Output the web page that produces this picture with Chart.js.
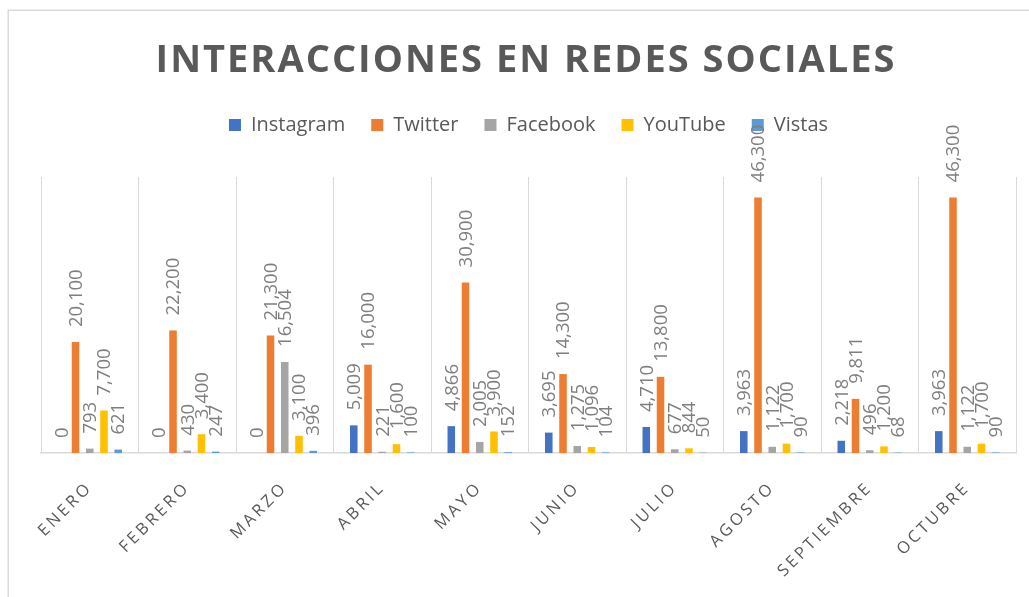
<!DOCTYPE html>
<html>
<head>
<meta charset="utf-8">
<script src="https://cdn.jsdelivr.net/npm/chart.js@4/dist/chart.umd.min.js"></script>
<style>
  html, body { margin: 0; padding: 0; background: #ffffff; }
  #wrap { width: 1029px; height: 597px; position: relative; }
</style>
</head>
<body>
<div id="wrap"><canvas id="c" width="1029" height="597"></canvas></div>
<script>
const chartTitle = 'INTERACCIONES EN REDES SOCIALES';
const months = ['ENERO', 'FEBRERO', 'MARZO', 'ABRIL', 'MAYO', 'JUNIO', 'JULIO', 'AGOSTO', 'SEPTIEMBRE', 'OCTUBRE'];
const instagram = [0, 0, 0, 5009, 4866, 3695, 4710, 3963, 2218, 3963];
const twitter   = [20100, 22200, 21300, 16000, 30900, 14300, 13800, 46300, 9811, 46300];
const facebook  = [793, 430, 16504, 221, 2005, 1275, 677, 1122, 496, 1122];
const youtube   = [7700, 3400, 3100, 1600, 3900, 1096, 844, 1700, 1200, 1700];
const vistas    = [621, 247, 396, 100, 152, 104, 50, 90, 68, 90];
const seriesNames = ['Instagram', 'Twitter', 'Facebook', 'YouTube', 'Vistas'];
const seriesColors = ['#4472C4', '#ED7D31', '#A5A5A5', '#FFC000', '#5B9BD5'];
const yMax = 50000;

const seriesData = [instagram, twitter, facebook, youtube, vistas];
const datasets = seriesNames.map((name, i) => ({
  label: name,
  data: seriesData[i],
  backgroundColor: seriesColors[i],
  borderWidth: 0,
  categoryPercentage: 0.73,
  barPercentage: 0.53
}));

const LEGEND_EXTRA = 32;

const decorPlugin = {
  id: 'decor',
  beforeLayout(chart) {
    const lg = chart.legend;
    if (lg && !lg._wrappedFit) {
      const f = lg.fit;
      lg.fit = function () { f.apply(this, arguments); this.height += LEGEND_EXTRA; };
      lg._wrappedFit = true;
    }
  },
  beforeDraw(chart) {
    const ctx = chart.ctx;
    ctx.save();
    ctx.fillStyle = '#ffffff';
    ctx.fillRect(0, 0, chart.width, chart.height);
    ctx.strokeStyle = '#d9d9d9';
    ctx.lineWidth = 1.5;
    ctx.strokeRect(8.25, 10.25, 1200, 800);
    ctx.restore();
    const sx = chart.scales.x;
    if (sx && !sx._wrappedLabels) {
      const orig = sx.drawLabels;
      sx.drawLabels = function (area) {
        const c = this.ctx;
        c.save();
        c.letterSpacing = '3px';
        orig.call(this, area);
        c.restore();
      };
      sx._wrappedLabels = true;
    }
  },
  afterDatasetsDraw(chart) {
    const ctx = chart.ctx;
    ctx.save();
    ctx.font = '18.5px "Open Sans"';
    ctx.fillStyle = '#7f7f7f';
    ctx.textAlign = 'left';
    ctx.textBaseline = 'middle';
    chart.data.datasets.forEach((ds, di) => {
      const meta = chart.getDatasetMeta(di);
      meta.data.forEach((el, i) => {
        const v = ds.data[i];
        const txt = v.toLocaleString('en-US');
        ctx.save();
        ctx.translate(el.x + 1, el.y - 15);
        ctx.rotate(-Math.PI / 2);
        ctx.fillText(txt, 0, 0);
        ctx.restore();
      });
    });
    ctx.restore();
  },
  afterDraw(chart) {
    const ctx = chart.ctx;
    ctx.save();
    ctx.font = 'bold 38px "Open Sans"';
    ctx.fillStyle = '#595959';
    ctx.letterSpacing = '2px';
    ctx.textAlign = 'center';
    ctx.textBaseline = 'alphabetic';
    ctx.fillText(chartTitle, 526, 72);
    ctx.restore();
  }
};

new Chart(document.getElementById('c'), {
  type: 'bar',
  data: { labels: months, datasets },
  options: {
    responsive: false,
    animation: false,
    devicePixelRatio: 1,
    layout: { padding: { left: 41, right: 13, top: 89, bottom: 0 } },
    plugins: {
      title: { display: false },
      tooltip: { enabled: false },
      legend: {
        display: true,
        position: 'top',
        labels: {
          boxWidth: 12,
          boxHeight: 12,
          padding: 26,
          color: '#595959',
          font: { family: '"Open Sans"', size: 20 }
        }
      }
    },
    scales: {
      x: {
        grid: { display: true, offset: true, color: '#d9d9d9', lineWidth: 1, drawTicks: false },
        border: { display: true, color: '#d9d9d9', width: 1.5 },
        ticks: {
          autoSkip: false,
          minRotation: 45,
          maxRotation: 45,
          padding: 25,
          color: '#595959',
          font: { family: '"Open Sans"', size: 16.5 }
        },
        afterFit(scale) { scale.height = 144; }
      },
      y: {
        display: false,
        min: 0,
        max: yMax
      }
    }
  },
  plugins: [decorPlugin]
});
</script>
</body>
</html>
